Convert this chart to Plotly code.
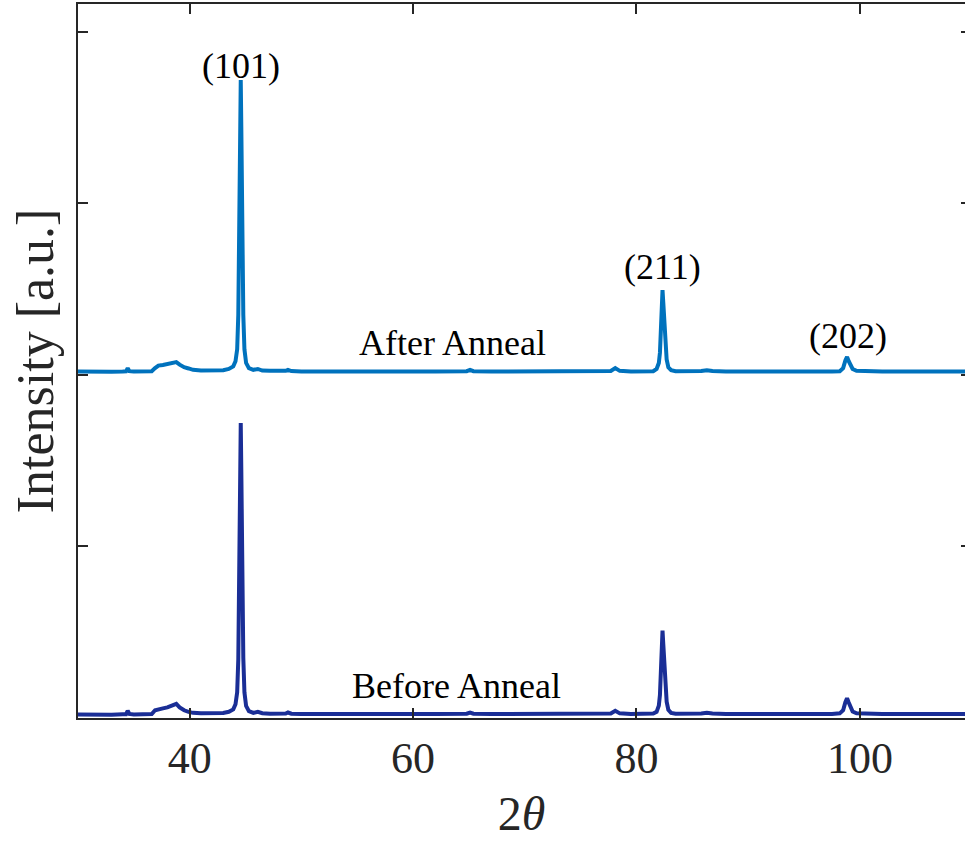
import plotly.graph_objects as go

# 2-theta sampling positions (degrees), shared by both scans
two_theta = [
    30.0, 31.0, 32.0, 33.0, 34.0, 34.3, 34.45, 34.6, 35.0, 36.0,
    36.6, 36.9, 37.2, 37.6, 38.0, 38.4, 38.8, 39.1, 39.5, 39.9,
    40.3, 41.0, 42.0, 43.0, 43.5, 43.9, 44.1, 44.25, 44.35, 44.45,
    44.52, 44.57, 44.62, 44.7, 44.8, 44.9, 45.05, 45.3, 45.7, 46.1,
    46.5, 47.2, 48.0, 48.6, 48.8, 49.1, 50.0, 52.0, 54.0, 56.0,
    58.0, 60.0, 62.0, 64.0, 64.8, 65.1, 65.4, 67.0, 70.0, 73.0,
    76.0, 77.7, 78.1, 78.5, 79.5, 80.5, 81.5, 81.8, 82.0, 82.1,
    82.2, 82.28, 82.33, 82.4, 82.48, 82.55, 82.62, 82.7, 82.85, 83.1,
    83.5, 84.5, 85.8, 86.3, 86.8, 88.0, 90.0, 92.0, 94.0, 96.0,
    97.5, 98.2, 98.5, 98.7, 98.85, 99.0, 99.15, 99.35, 99.7, 100.5,
    102.0, 104.0, 106.0, 108.0, 110.0,
]

# Diffracted intensity before annealing (a.u.)
before_anneal = [
    0.020, 0.018, 0.021, 0.019, 0.022, 0.022, 0.042, 0.024, 0.021, 0.022,
    0.023, 0.045, 0.052, 0.056, 0.062, 0.070, 0.082, 0.062, 0.045, 0.036,
    0.030, 0.027, 0.026, 0.029, 0.036, 0.050, 0.080, 0.150, 0.340, 0.950,
    1.500, 1.720, 1.450, 0.850, 0.350, 0.150, 0.070, 0.040, 0.030, 0.036,
    0.028, 0.025, 0.024, 0.026, 0.032, 0.025, 0.024, 0.023, 0.024, 0.022,
    0.024, 0.023, 0.024, 0.023, 0.025, 0.032, 0.025, 0.023, 0.024, 0.023,
    0.024, 0.026, 0.042, 0.027, 0.024, 0.025, 0.026, 0.036, 0.072, 0.135,
    0.310, 0.470, 0.510, 0.430, 0.340, 0.280, 0.175, 0.095, 0.048, 0.030,
    0.025, 0.024, 0.026, 0.030, 0.026, 0.024, 0.023, 0.024, 0.023, 0.024,
    0.024, 0.027, 0.045, 0.092, 0.115, 0.090, 0.065, 0.038, 0.027, 0.025,
    0.024, 0.023, 0.024, 0.023, 0.024,
]

# Diffracted intensity after annealing (a.u.), plotted with a vertical offset
after_anneal = [
    0.020, 0.018, 0.021, 0.019, 0.020, 0.021, 0.040, 0.022, 0.020, 0.021,
    0.022, 0.040, 0.055, 0.058, 0.062, 0.068, 0.075, 0.060, 0.045, 0.038,
    0.030, 0.026, 0.025, 0.028, 0.035, 0.050, 0.080, 0.150, 0.350, 0.950,
    1.500, 1.720, 1.450, 0.850, 0.350, 0.150, 0.070, 0.040, 0.030, 0.035,
    0.026, 0.024, 0.022, 0.024, 0.030, 0.023, 0.021, 0.020, 0.021, 0.019,
    0.021, 0.020, 0.021, 0.020, 0.022, 0.030, 0.022, 0.020, 0.021, 0.020,
    0.021, 0.023, 0.040, 0.024, 0.021, 0.022, 0.022, 0.035, 0.070, 0.130,
    0.300, 0.460, 0.495, 0.420, 0.330, 0.270, 0.170, 0.090, 0.045, 0.028,
    0.022, 0.021, 0.023, 0.028, 0.023, 0.021, 0.020, 0.021, 0.020, 0.021,
    0.021, 0.022, 0.040, 0.085, 0.105, 0.080, 0.060, 0.035, 0.024, 0.022,
    0.021, 0.020, 0.021, 0.020, 0.021,
]
after_offset = 2.0

# Reflection labels and scan labels: (text, 2-theta, height)
peak_labels = [("(101)", 44.6, 3.80), ("(211)", 82.3, 2.63), ("(202)", 98.9, 2.227)]
scan_labels = [("After Anneal", 63.5, 2.186), ("Before Anneal", 63.85, 0.184)]

y_ticks = [0, 1, 2, 3, 4]

SERIF = "Liberation Serif, Times New Roman, serif"
AXIS_COLOR = "#262626"

fig = go.Figure()
fig.add_trace(go.Scatter(
    x=two_theta, y=before_anneal, mode="lines",
    line=dict(color="#1A2E96", width=4), showlegend=False,
))
fig.add_trace(go.Scatter(
    x=two_theta, y=[v + after_offset for v in after_anneal], mode="lines",
    line=dict(color="#0072BD", width=4), showlegend=False,
))
# invisible trace on a right-hand axis, just to carry the mirrored y ticks
fig.add_trace(go.Scatter(
    x=[two_theta[0]], y=[0], yaxis="y2", mode="lines",
    line=dict(width=0), showlegend=False, hoverinfo="skip",
))

for text, xv, yv in peak_labels + scan_labels:
    fig.add_annotation(
        x=xv, y=yv, xref="x", yref="y", text=text, showarrow=False,
        xanchor="center", yanchor="middle",
        font=dict(family=SERIF, size=36, color="#000000"),
    )

fig.update_layout(
    width=965, height=841,
    margin=dict(l=78, r=0, t=4, b=123),
    paper_bgcolor="white", plot_bgcolor="white",
    xaxis=dict(
        range=[30, 109.41], tickvals=[40, 60, 80, 100],
        ticks="inside", ticklen=10, tickwidth=1.5, tickcolor=AXIS_COLOR,
        showline=True, linecolor=AXIS_COLOR, linewidth=1.5, mirror="ticks",
        showgrid=False, zeroline=False,
        tickfont=dict(family=SERIF, size=44, color=AXIS_COLOR),
        title=dict(text="2<i>θ</i>", standoff=15,
                   font=dict(family=SERIF, size=48, color=AXIS_COLOR)),
    ),
    yaxis=dict(
        range=[0, 4.163], tickvals=y_ticks, showticklabels=False,
        ticks="inside", ticklen=10, tickwidth=1.5, tickcolor=AXIS_COLOR,
        showline=True, linecolor=AXIS_COLOR, linewidth=1.5,
        showgrid=False, zeroline=False,
        title=dict(text="Intensity [a.u.]", standoff=6,
                   font=dict(family=SERIF, size=52, color=AXIS_COLOR)),
    ),
    yaxis2=dict(
        overlaying="y", side="right", anchor="x", matches="y",
        tickvals=y_ticks, showticklabels=False,
        ticks="inside", ticklen=4, tickwidth=1.5, tickcolor=AXIS_COLOR,
        showline=False, showgrid=False, zeroline=False,
    ),
)

fig.write_html("out.html")
